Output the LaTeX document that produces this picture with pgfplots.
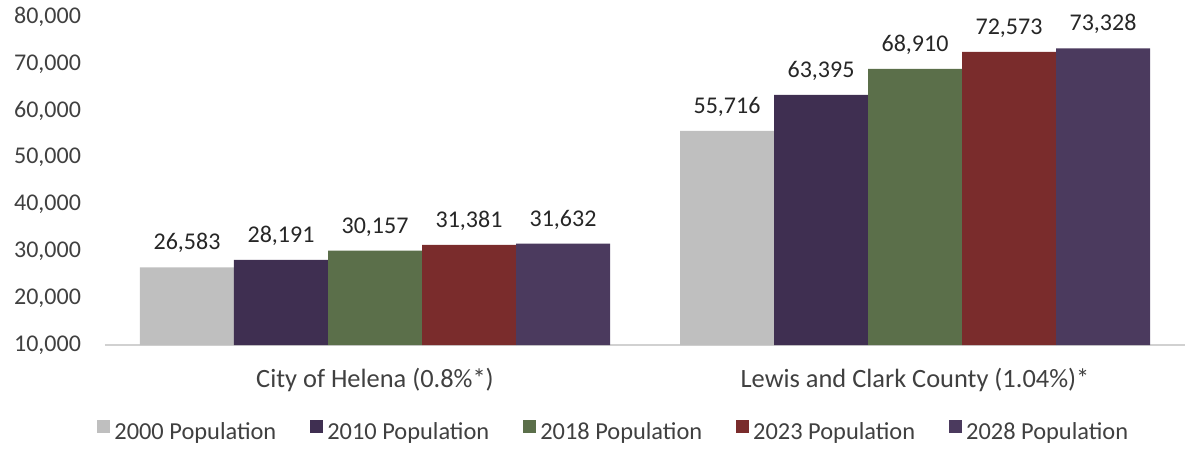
\documentclass[border=0pt]{standalone}
\usepackage{fontspec}
\setmainfont{Carlito}
\usepackage{pgfplots}
\pgfplotsset{compat=1.18}
\definecolor{cA}{HTML}{BFBFBF}
\definecolor{cB}{HTML}{3F2F51}
\definecolor{cC}{HTML}{5B6F4A}
\definecolor{cD}{HTML}{7A2C2C}
\definecolor{cE}{HTML}{4B3A5E}
\definecolor{tick}{HTML}{404040}
\begin{document}
\begin{tikzpicture}
\begin{axis}[
  scale only axis, width=540pt, height=164pt,
  ybar=0pt, bar width=47pt,
  xmin=-0.5, xmax=1.5, ymin=10000, ymax=80000,
  xtick={0,1},
  xticklabels={City of Helena (0.8\%*), Lewis and Clark County (1.04\%)*},
  ytick={10000,20000,...,80000},
  scaled y ticks=false,
  /pgf/number format/.cd, 1000 sep={,}, fixed, precision=0, assume math mode=true, /pgfplots/.cd,
  axis x line*=bottom, axis y line*=left,
  y axis line style={draw=none},
  x axis line style={draw=black!18, line width=1pt},
  major tick length=0pt,
  clip=false,
  yticklabel style={font=\fontsize{12}{14}\selectfont, text=tick, xshift=-8.5pt},
  xticklabel style={font=\fontsize{13.2}{16}\selectfont, text=tick, yshift=-8pt},
  nodes near coords,
  every node near coord/.append style={font=\fontsize{12}{14}\selectfont, text=black!85, inner sep=0pt, yshift=7pt},
  legend columns=5,
  legend style={draw=none, font=\fontsize{12.2}{15}\selectfont, text=tick, at={(0.472,-0.21)}, anchor=north,
    /tikz/every even column/.append style={column sep=15pt}},
  legend image code/.code={\fill[#1] (0pt,-0.3pt) rectangle (6.5pt,6.2pt);},
]
\addplot[fill=cA, draw=none] coordinates {(0,26583) (1,55716)};
\addplot[fill=cB, draw=none] coordinates {(0,28191) (1,63395)};
\addplot[fill=cC, draw=none] coordinates {(0,30157) (1,68910)};
\addplot[fill=cD, draw=none] coordinates {(0,31381) (1,72573)};
\addplot[fill=cE, draw=none] coordinates {(0,31632) (1,73328)};
\legend{2000 Population, 2010 Population, 2018 Population, 2023 Population, 2028 Population}
\path (rel axis cs:0,1) ++(-52.5pt,8.5pt) coordinate (bbA);
\path (rel axis cs:1,0) ++(1.5pt,-50pt) coordinate (bbB);
\end{axis}
\path (bbA) (bbB);
\end{tikzpicture}
\end{document}
